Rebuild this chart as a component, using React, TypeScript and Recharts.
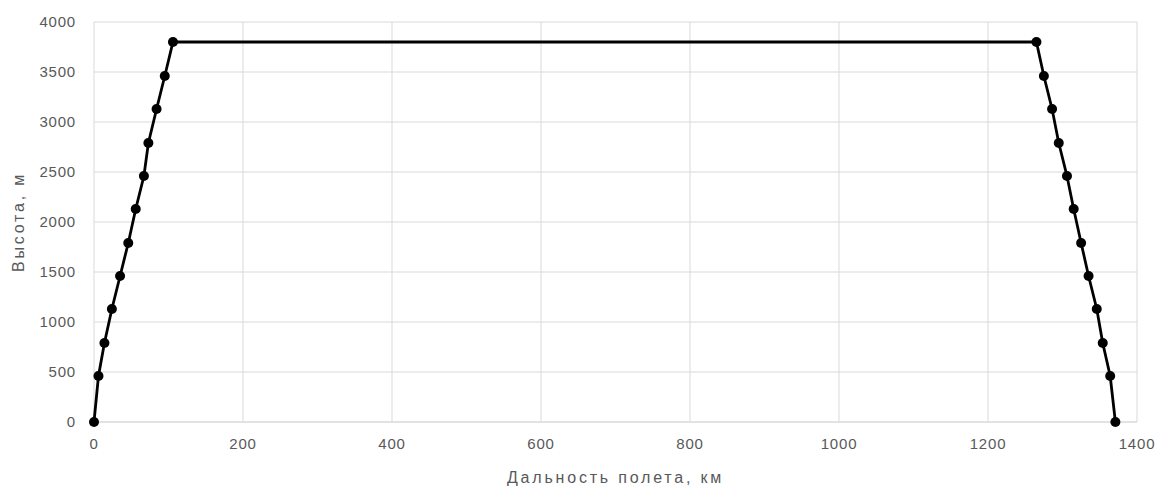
import React from 'react';
import {LineChart, Line, XAxis, YAxis, CartesianGrid, Label} from 'recharts';

// flight profile: climb, cruise at 3800 m, descent
const distanceKm = [0, 6, 14, 24, 35, 46, 56, 67, 73, 84, 95, 106, 1265, 1275, 1286, 1295, 1306, 1315, 1325, 1335, 1346, 1354, 1364, 1371];
const altitudeM = [0, 460, 790, 1130, 1460, 1790, 2130, 2460, 2790, 3130, 3460, 3800, 3800, 3460, 3130, 2790, 2460, 2130, 1790, 1460, 1130, 790, 460, 0];

const xTicks = [0, 200, 400, 600, 800, 1000, 1200, 1400];
const yTicks = [0, 500, 1000, 1500, 2000, 2500, 3000, 3500, 4000];

const data = distanceKm.map((d, i) => ({dist: d, alt: altitudeM[i]}));

const gridColor = '#d9d9d9';
const textColor = '#595959';
const font = '"Liberation Sans", Arial, sans-serif';

const tickStyle = {fill: textColor, fontSize: 15, fontFamily: font, letterSpacing: 0.8};
const titleStyle = {fill: textColor, fontSize: 16, fontFamily: font, letterSpacing: 2.8, textAnchor: 'middle' as const};

const App: React.FC = () => {
    return (
        <div style={{position: 'absolute', left: 0, top: 0, width: 1158, height: 493, background: '#fff'}}>
            <LineChart width={1158} height={493} data={data} margin={{top: 22, right: 21, bottom: 0, left: 0}}>
                <CartesianGrid stroke={gridColor} strokeWidth={1}/>
                <XAxis
                    dataKey="dist"
                    type="number"
                    domain={[0, 1400]}
                    ticks={xTicks}
                    height={71}
                    axisLine={{stroke: gridColor}}
                    tickLine={false}
                    tickMargin={10}
                    tick={tickStyle}
                >
                    <Label value="Дальность полета, км" position="insideBottom" offset={10} style={titleStyle}/>
                </XAxis>
                <YAxis
                    type="number"
                    domain={[0, 4000]}
                    ticks={yTicks}
                    width={94}
                    axisLine={false}
                    tickLine={false}
                    tickMargin={12}
                    tick={tickStyle}
                >
                    <Label value="Высота, м" angle={-90} position="insideLeft" offset={18} style={titleStyle}/>
                </YAxis>
                <Line
                    dataKey="alt"
                    stroke="#000"
                    strokeWidth={2.8}
                    dot={{r: 5, fill: '#000', stroke: '#000', strokeWidth: 0}}
                    activeDot={false}
                    isAnimationActive={false}
                />
            </LineChart>
        </div>
    );
};

export default App;
